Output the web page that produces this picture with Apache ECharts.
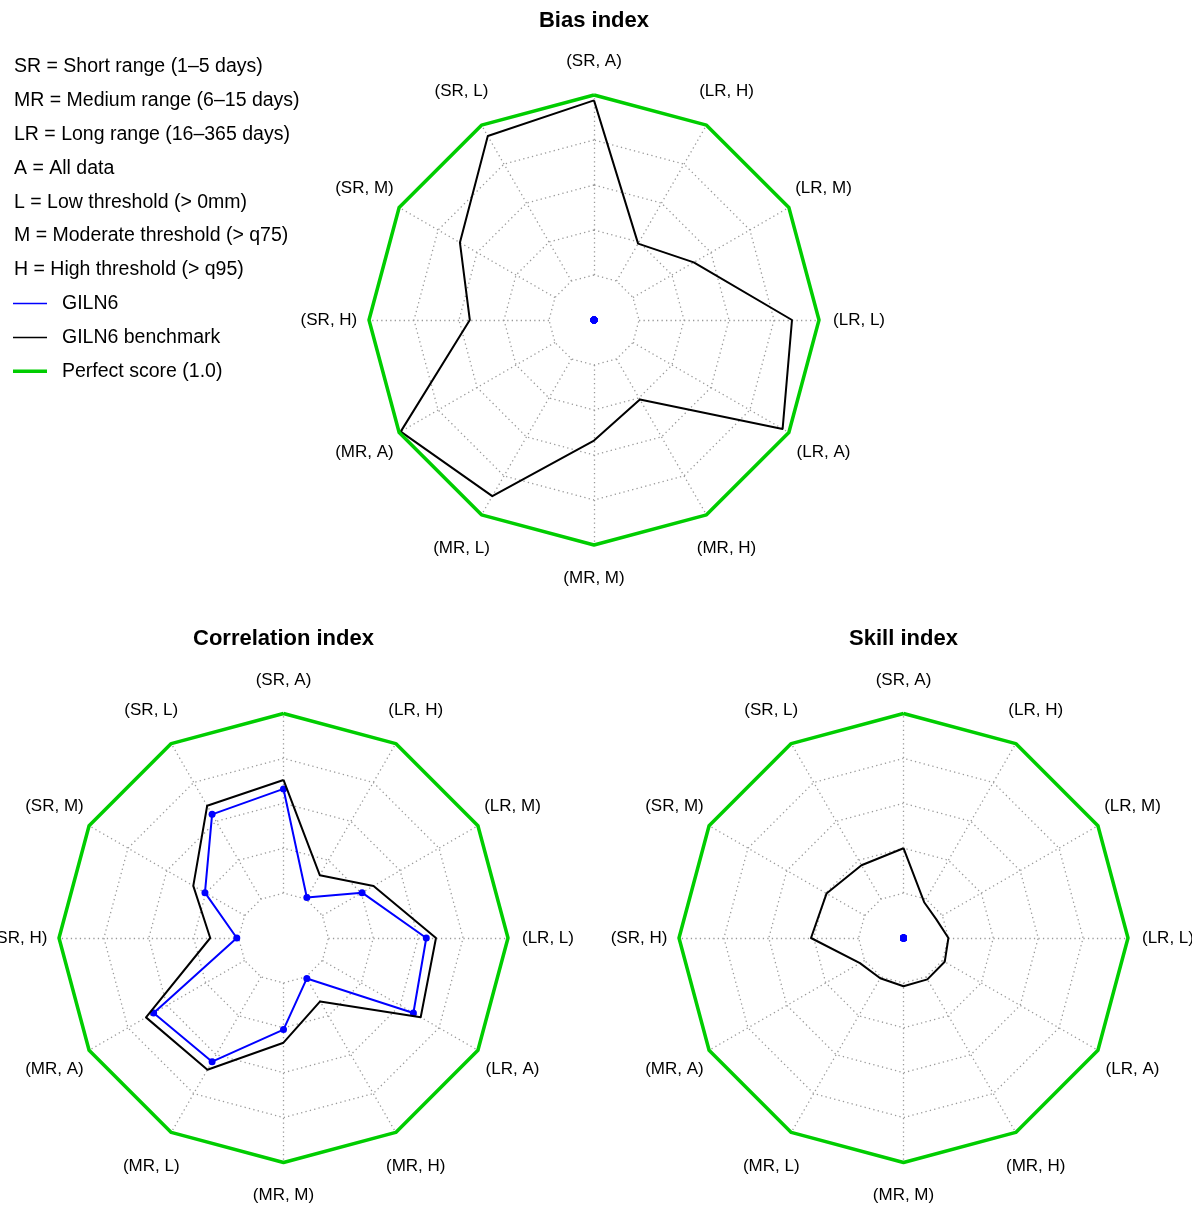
<!DOCTYPE html>
<html>
<head>
<meta charset="utf-8">
<script src="https://cdn.jsdelivr.net/npm/echarts@6/dist/echarts.min.js"></script>
<style>
  html, body { margin: 0; padding: 0; background: #ffffff; }
  #chart { width: 1192px; height: 1211px; }
</style>
</head>
<body>
<div id="chart"></div>
<script>
// Spokes, counter-clockwise from the top
const axisNames = ['(SR, A)', '(SR, L)', '(SR, M)', '(SR, H)', '(MR, A)', '(MR, L)',
                   '(MR, M)', '(MR, H)', '(LR, A)', '(LR, L)', '(LR, M)', '(LR, H)'];

const definitions = [
  'SR = Short range (1\u20135 days)',
  'MR = Medium range (6\u201315 days)',
  'LR = Long range (16\u2013365 days)',
  'A = All data',
  'L = Low threshold (> 0mm)',
  'M = Moderate threshold (> q75)',
  'H = High threshold (> q95)'
];

const seriesNames = ['GILN6', 'GILN6 benchmark', 'Perfect score (1.0)'];
const panelTitles = ['Bias index', 'Correlation index', 'Skill index'];

// Index values; the innermost ring is 0, the outer ring is 1, the centre is -0.25
const perfectScore   = [1, 1, 1, 1, 1, 1, 1, 1, 1, 1, 1, 1];
const biasGILN6      = [-0.25, -0.25, -0.25, -0.25, -0.25, -0.25, -0.25, -0.25, -0.25, -0.25, -0.25, -0.25];
const biasBenchmark  = [0.97, 0.93, 0.61, 0.44, 0.99, 0.88, 0.42, 0.26, 0.96, 0.85, 0.39, 0.24];
const corrGILN6      = [0.58, 0.545, 0.255, 0.01, 0.585, 0.545, 0.26, 0.01, 0.585, 0.545, 0.255, 0.01];
const corrBenchmark  = [0.63, 0.60, 0.33, 0.158, 0.634, 0.597, 0.333, 0.158, 0.632, 0.599, 0.329, 0.154];
const skillGILN6     = [-0.25, -0.25, -0.25, -0.25, -0.25, -0.25, -0.25, -0.25, -0.25, -0.25, -0.25, -0.25];
const skillBenchmark = [0.25, 0.218, 0.245, 0.265, 0.03, 0.009, 0.019, 0.016, 0.015, 0.0, -0.04, -0.02];

// Layout of the three panels
const panels = [
  { title: panelTitles[0], center: [594, 320],   radius: 225,   titleTop: 10,  giln6: biasGILN6,  bench: biasBenchmark },
  { title: panelTitles[1], center: [283.5, 938], radius: 224.5, titleTop: 628, giln6: corrGILN6,  bench: corrBenchmark },
  { title: panelTitles[2], center: [903.5, 938], radius: 224.5, titleTop: 628, giln6: skillGILN6, bench: skillBenchmark }
];

const GRID = '#9a9a9a';
const BLUE = '#0000ff';
const GREEN = '#00cd00';
const FONT = '"Liberation Sans", Arial, Helvetica, sans-serif';
const dotted = { color: GRID, width: 1.3, type: [1.3, 3.2], cap: 'butt' };

const radars = panels.map(p => ({
  center: p.center,
  radius: [p.radius * 0.2, p.radius],
  startAngle: 90,
  shape: 'polygon',
  splitNumber: 4,
  indicator: axisNames.map(n => ({ name: n, min: 0, max: 1 })),
  axisName: { show: false },
  axisLine: { lineStyle: dotted },
  splitLine: { lineStyle: dotted },
  splitArea: { show: false },
  axisTick: { show: false },
  axisLabel: { show: false },
  silent: true
}));

const series = [];
panels.forEach((p, i) => {
  series.push({
    type: 'radar', radarIndex: i, name: seriesNames[0], z: 3,
    symbol: 'circle', symbolSize: 7,
    lineStyle: { color: BLUE, width: 2 },
    itemStyle: { color: BLUE },
    data: [{ name: seriesNames[0], value: p.giln6 }]
  });
  series.push({
    type: 'radar', radarIndex: i, name: seriesNames[1], z: 4,
    symbol: 'none',
    lineStyle: { color: '#000000', width: 2 },
    itemStyle: { color: '#000000' },
    data: [{ name: seriesNames[1], value: p.bench }]
  });
  series.push({
    type: 'radar', radarIndex: i, name: seriesNames[2], z: 5,
    symbol: 'none',
    lineStyle: { color: GREEN, width: 3.5 },
    itemStyle: { color: GREEN },
    data: [{ name: seriesNames[2], value: perfectScore }]
  });
});

// Spoke labels, centred a little outside the outer ring
const graphics = [];
panels.forEach(p => {
  axisNames.forEach((name, k) => {
    const a = (90 + k * 360 / axisNames.length) * Math.PI / 180;
    const s = Math.sin(a);
    const fy = Math.abs(s) > 0.99 ? 1.148 : 1.172;
    graphics.push({
      type: 'text',
      x: p.center[0] + 1.178 * p.radius * Math.cos(a),
      y: p.center[1] - fy * p.radius * s,
      style: { text: name, font: '17px ' + FONT, fill: '#000', align: 'center', verticalAlign: 'middle' },
      silent: true
    });
  });
});

// Key in the upper-left corner
const rowY0 = 67, rowStep = 33.8;
definitions.forEach((t, i) => {
  graphics.push({
    type: 'text', x: 14, y: rowY0 + i * rowStep,
    style: { text: t, font: '19.5px ' + FONT, fill: '#000', align: 'left', verticalAlign: 'middle' },
    silent: true
  });
});
const keyStyles = [
  { stroke: BLUE, lineWidth: 1.5 },
  { stroke: '#000000', lineWidth: 1.5 },
  { stroke: GREEN, lineWidth: 3.5 }
];
seriesNames.forEach((t, j) => {
  const y = rowY0 + (definitions.length + j) * rowStep;
  graphics.push({
    type: 'line', shape: { x1: 13, y1: y, x2: 47, y2: y },
    style: keyStyles[j], silent: true
  });
  graphics.push({
    type: 'text', x: 62, y: y,
    style: { text: t, font: '19.5px ' + FONT, fill: '#000', align: 'left', verticalAlign: 'middle' },
    silent: true
  });
});

const chart = echarts.init(document.getElementById('chart'), null, { renderer: 'canvas' });
chart.setOption({
  backgroundColor: '#ffffff',
  animation: false,
  title: panels.map(p => ({
    text: p.title,
    left: p.center[0],
    top: p.titleTop,
    textAlign: 'center',
    padding: 0,
    textStyle: { fontFamily: FONT, fontSize: 22, fontWeight: 'bold', color: '#000' }
  })),
  radar: radars,
  series: series,
  graphic: graphics
});
</script>
</body>
</html>
